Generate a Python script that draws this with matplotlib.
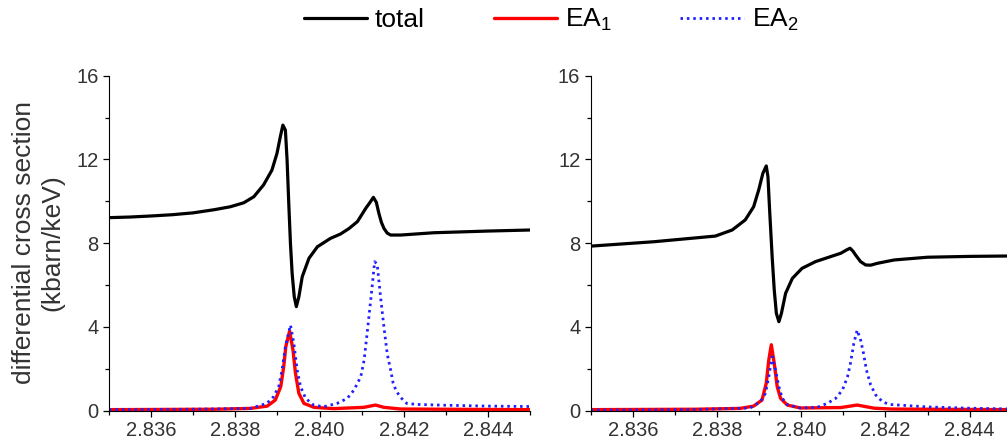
import matplotlib
matplotlib.use("Agg")
import matplotlib.pyplot as plt
from matplotlib.ticker import MultipleLocator, FormatStrFormatter

plt.rcParams['font.family'] = ['Liberation Sans', 'DejaVu Sans']
plt.rcParams['mathtext.default'] = 'regular'

# left panel
xl_total = [2.8350, 2.8355, 2.8360, 2.8365, 2.8370, 2.8375, 2.83788, 2.83820, 2.83844, 2.83867,
            2.83887, 2.83899, 2.83907, 2.83913, 2.83919, 2.83923, 2.83927, 2.83931, 2.83935, 2.83940,
            2.83945, 2.83951, 2.83959, 2.83975, 2.83995, 2.84026, 2.84050, 2.84070, 2.84090, 2.84110,
            2.84120, 2.84128, 2.84135, 2.84141, 2.84147, 2.84153, 2.84161, 2.84169, 2.84193, 2.84272,
            2.8440, 2.8450]
yl_total = [9.22, 9.25, 9.30, 9.36, 9.45, 9.60, 9.74, 9.93, 10.22, 10.78,
            11.49, 12.29, 13.09, 13.64, 13.40, 11.97, 9.90, 7.99, 6.56, 5.44,
            4.97, 5.44, 6.40, 7.28, 7.83, 8.23, 8.44, 8.70, 9.03, 9.67,
            9.95, 10.19, 9.95, 9.43, 9.00, 8.71, 8.48, 8.39, 8.39, 8.50,
            8.58, 8.63]

xl_ea1 = [2.8350, 2.8375, 2.83836, 2.83876, 2.83895, 2.83908, 2.83915, 2.83920, 2.83929, 2.83937,
          2.83943, 2.83951, 2.83963, 2.83987, 2.84034, 2.84105, 2.84133, 2.84153, 2.84193, 2.8450]
yl_ea1 = [0.05, 0.07, 0.11, 0.22, 0.51, 1.15, 2.10, 3.06, 3.80, 2.90,
          1.78, 0.83, 0.35, 0.16, 0.10, 0.16, 0.27, 0.16, 0.08, 0.05]

xl_ea2 = [2.8350, 2.8370, 2.8380, 2.83836, 2.83875, 2.83891, 2.83903, 2.83911, 2.83919, 2.83931,
          2.83939, 2.83947, 2.83955, 2.83967, 2.83986, 2.84010, 2.84042, 2.84066, 2.84082, 2.84098,
          2.84106, 2.84114, 2.84125, 2.84131, 2.84137, 2.84145, 2.84153, 2.84161, 2.84169, 2.84175,
          2.84183, 2.84195, 2.84207, 2.8423, 2.8430, 2.8440, 2.8450]
yl_ea2 = [0.05, 0.07, 0.10, 0.11, 0.35, 0.67, 1.15, 1.94, 3.06, 4.09,
          3.22, 1.94, 1.15, 0.59, 0.27, 0.19, 0.35, 0.59, 0.99, 1.62,
          2.42, 3.85, 5.92, 7.12, 7.00, 5.44, 4.00, 2.70, 1.94, 1.31,
          0.91, 0.59, 0.35, 0.30, 0.26, 0.22, 0.20]

# right panel
xr_total = [2.8350, 2.8365, 2.83796, 2.83836, 2.83867, 2.83887, 2.83899, 2.83909, 2.83917, 2.83921,
            2.83925, 2.83931, 2.83936, 2.83941, 2.83947, 2.83953, 2.83963, 2.83979, 2.84002, 2.84034,
            2.84058, 2.84094, 2.84108, 2.84116, 2.84123, 2.84129, 2.84141, 2.84153, 2.84165, 2.84181,
            2.84221, 2.84300, 2.8440, 2.8450]
yr_total = [7.86, 8.07, 8.34, 8.63, 9.11, 9.74, 10.54, 11.34, 11.69, 11.18,
            9.58, 7.35, 5.76, 4.65, 4.25, 4.65, 5.61, 6.32, 6.80, 7.12,
            7.28, 7.52, 7.68, 7.76, 7.62, 7.44, 7.12, 6.96, 6.95, 7.04,
            7.20, 7.33, 7.37, 7.39]

xr_ea1 = [2.8350, 2.8375, 2.83855, 2.83887, 2.83907, 2.83917, 2.83923, 2.83929, 2.83936, 2.83943,
          2.83951, 2.83967, 2.83998, 2.84094, 2.84133, 2.84173, 2.84213, 2.8450]
yr_ea1 = [0.05, 0.07, 0.11, 0.22, 0.51, 1.31, 2.42, 3.15, 2.26, 1.15,
          0.59, 0.27, 0.13, 0.15, 0.27, 0.12, 0.08, 0.05]

xr_ea2 = [2.8350, 2.8375, 2.83879, 2.83903, 2.83915, 2.83923, 2.83931, 2.83939, 2.83947, 2.83955,
          2.83967, 2.83998, 2.84038, 2.84062, 2.84082, 2.84098, 2.84110, 2.84117, 2.84125, 2.84133,
          2.84141, 2.84148, 2.84155, 2.84165, 2.84177, 2.84193, 2.84209, 2.8430, 2.8440, 2.8450]
yr_ea2 = [0.03, 0.06, 0.13, 0.43, 0.83, 1.62, 2.58, 1.94, 1.15, 0.59,
          0.29, 0.13, 0.16, 0.35, 0.59, 0.99, 1.62, 2.26, 3.22, 3.85,
          3.38, 2.74, 1.94, 1.23, 0.75, 0.43, 0.30, 0.18, 0.12, 0.08]

W, H = 1007, 446
fig = plt.figure(figsize=(W / 100, H / 100), dpi=100)

ax1 = fig.add_axes([109 / W, 35.3 / H, 421 / W, 335 / H])
ax2 = fig.add_axes([590.7 / W, 35.3 / H, 421 / W, 335 / H])

panels = [(ax1, xl_total, yl_total, xl_ea1, yl_ea1, xl_ea2, yl_ea2),
          (ax2, xr_total, yr_total, xr_ea1, yr_ea1, xr_ea2, yr_ea2)]

for ax, xt, yt, x1, y1, x2, y2 in panels:
    ax.plot(xt, yt, color='black', lw=2.3, label='total',
            solid_joinstyle='round', solid_capstyle='round')
    ax.plot(x1, y1, color='#ff0000', lw=2.4, label='EA$_1$',
            solid_joinstyle='round', solid_capstyle='round')
    ax.plot(x2, y2, color='#1f1fff', lw=2.0, linestyle=(0, (0.9, 1.4)), label='EA$_2$')
    ax.set_xlim(2.835, 2.845)
    ax.set_ylim(0, 16)
    ax.spines['top'].set_visible(False)
    ax.spines['right'].set_visible(False)
    ax.xaxis.set_major_locator(MultipleLocator(0.002))
    ax.xaxis.set_minor_locator(MultipleLocator(0.001))
    ax.xaxis.set_major_formatter(FormatStrFormatter('%.3f'))
    ax.yaxis.set_major_locator(MultipleLocator(4))
    ax.yaxis.set_minor_locator(MultipleLocator(2))
    ax.tick_params(which='major', length=4.5, width=0.9, labelsize=14.5, labelcolor='#333333', pad=3)
    ax.tick_params(which='minor', length=3, width=0.9)
    ax.set_xticks([2.836, 2.838, 2.840, 2.842, 2.844])

fig.text(38 / W, 1 - 243 / H, 'differential cross section\n(kbarn/keV)', rotation=90,
         ha='center', va='center', multialignment='center', fontsize=19,
         color='#333333', linespacing=1.2)

handles, labels = ax1.get_legend_handles_labels()
fig.legend(handles, labels, loc='center', bbox_to_anchor=(551 / W, 1 - 20 / H), ncol=3,
           frameon=False, fontsize=19, handlelength=2.4, handletextpad=0.3,
           columnspacing=2.6)

fig.savefig('out.png', dpi=100)
